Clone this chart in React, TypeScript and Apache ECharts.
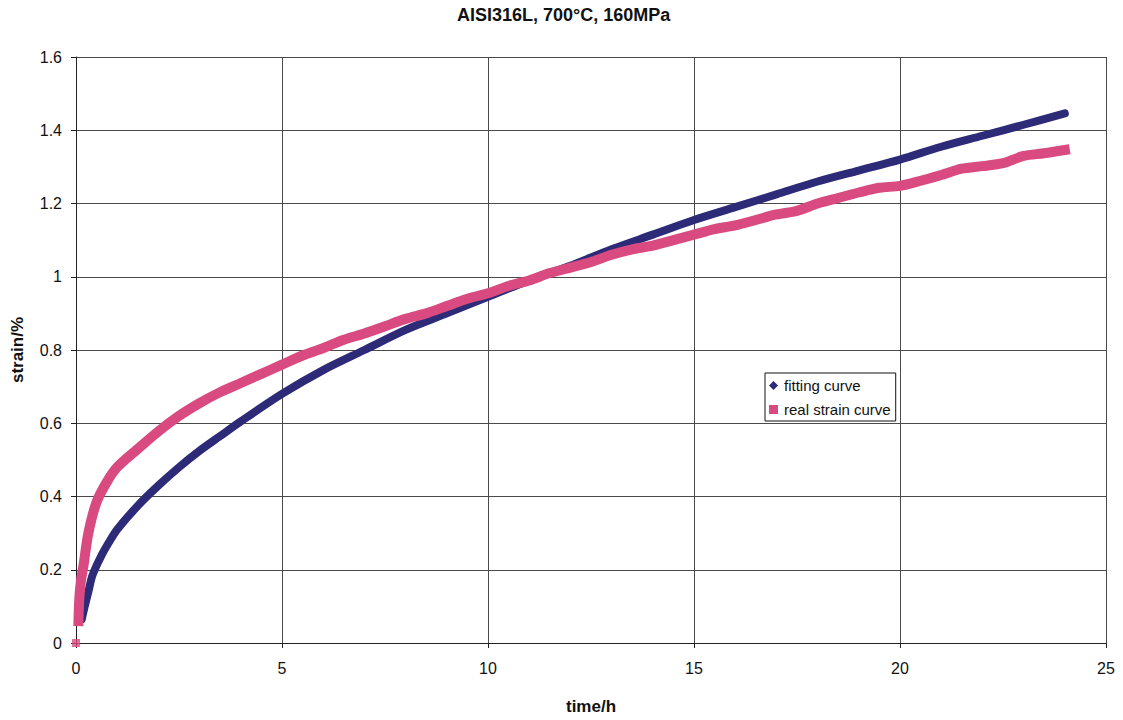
import React, { useEffect, useRef } from "react";
import * as echarts from "echarts";

// Creep test of AISI316L at 700 °C / 160 MPa: fitted model vs. measured strain
const fitTime = [0.14, 0.2, 0.3, 0.4, 0.6, 0.8, 1, 1.5, 2, 2.5, 3, 3.5, 4, 5, 6, 7, 8, 9, 10, 11, 12, 13, 14, 15, 16, 17, 18, 19, 20, 21, 22, 23, 24];
const fitStrain = [0.065, 0.095, 0.14, 0.185, 0.235, 0.275, 0.31, 0.375, 0.43, 0.48, 0.525, 0.565, 0.605, 0.68, 0.745, 0.8, 0.855, 0.9, 0.945, 0.99, 1.03, 1.075, 1.115, 1.155, 1.19, 1.225, 1.26, 1.29, 1.32, 1.355, 1.385, 1.415, 1.446];

const realTime = [0, 0.06, 0.08, 0.12, 0.18, 0.3, 0.5, 0.75, 1, 1.5, 2, 2.5, 3, 3.5, 4, 4.5, 5, 5.5, 6, 6.5, 7, 7.5, 8, 8.5, 9, 9.5, 10, 10.5, 11, 11.5, 12, 12.5, 13, 13.5, 14, 14.5, 15, 15.5, 16, 16.5, 17, 17.5, 18, 18.5, 19, 19.5, 20, 20.5, 21, 21.5, 22, 22.5, 23, 23.5, 24];
const realStrain = [0, 0.06, 0.12, 0.17, 0.21, 0.3, 0.385, 0.44, 0.48, 0.53, 0.578, 0.62, 0.655, 0.685, 0.71, 0.735, 0.76, 0.785, 0.805, 0.828, 0.845, 0.865, 0.885, 0.9, 0.92, 0.94, 0.955, 0.975, 0.99, 1.01, 1.025, 1.04, 1.06, 1.075, 1.085, 1.1, 1.115, 1.13, 1.14, 1.155, 1.17, 1.18, 1.2, 1.215, 1.23, 1.243, 1.248, 1.262, 1.278, 1.295, 1.302, 1.31, 1.33, 1.337, 1.346];

const xTicks = { min: 0, max: 25, interval: 5 };
const yTicks = { min: 0, max: 1.6, interval: 0.2 };

const FIT_COLOR = "#2d2b78";
const REAL_COLOR = "#d84a80";
const FONT = "'Liberation Sans', Arial, sans-serif";

export default function App() {
  const ref = useRef<HTMLDivElement>(null);

  useEffect(() => {
    if (!ref.current) return;
    const chart = echarts.init(ref.current, undefined, { renderer: "svg" });

    const fitData = fitTime.map((t, i) => [t, fitStrain[i]]);
    const realData = realTime.map((t, i) => [t, realStrain[i]]);

    const axisCommon = {
      type: "value" as const,
      axisLine: { show: true, lineStyle: { color: "#222", width: 1 } },
      axisTick: { show: true, inside: false, length: 5, lineStyle: { color: "#222" } },
      splitLine: { show: true, lineStyle: { color: "#4a4a4a", width: 1 } },
      nameTextStyle: { fontFamily: FONT, fontWeight: "bold" as const, fontSize: 17, color: "#111" },
    };

    chart.setOption({
      animation: false,
      backgroundColor: "#ffffff",
      textStyle: { fontFamily: FONT },
      title: {
        text: "AISI316L, 700°C, 160MPa",
        left: 457,
        top: 6,
        padding: 0,
        textStyle: { fontFamily: FONT, fontWeight: "bold", fontSize: 18, color: "#111" },
      },
      grid: { left: 76, right: 17, top: 57, bottom: 77, containLabel: false },
      legend: {
        orient: "vertical",
        left: 765,
        top: 373,
        padding: [5, 5, 4, 4],
        itemWidth: 9,
        itemHeight: 9,
        itemGap: 9,
        borderColor: "#111",
        borderWidth: 1,
        backgroundColor: "#ffffff",
        textStyle: { fontFamily: FONT, fontSize: 15, color: "#111", padding: [0, 0, 0, 1] },
        data: [
          { name: "fitting curve", icon: "diamond" },
          { name: "real strain curve", icon: "rect" },
        ],
      },
      xAxis: {
        ...axisCommon,
        ...xTicks,
        name: "time/h",
        nameLocation: "middle",
        nameGap: 55,
        axisLabel: { fontFamily: FONT, fontSize: 16, color: "#111", margin: 17 },
      },
      yAxis: {
        ...axisCommon,
        ...yTicks,
        name: "strain/%",
        nameLocation: "middle",
        nameGap: 50,
        axisLabel: { fontFamily: FONT, fontSize: 16, color: "#111", margin: 14 },
      },
      series: [
        {
          name: "fitting curve",
          type: "line",
          data: fitData,
          color: FIT_COLOR,
          showSymbol: false,
          symbol: "diamond",
          smooth: 0.3,
          lineStyle: { color: FIT_COLOR, width: 8, cap: "round", join: "round" },
          z: 2,
        },
        {
          name: "real strain curve",
          type: "line",
          data: realData.slice(1),
          color: REAL_COLOR,
          showSymbol: false,
          symbol: "rect",
          smooth: 0.3,
          lineStyle: { color: REAL_COLOR, width: 10, cap: "square", join: "round" },
          z: 3,
        },
        {
          name: "real strain curve",
          type: "scatter",
          data: realData.slice(0, 1),
          color: REAL_COLOR,
          symbol: "rect",
          symbolSize: 8,
          z: 3,
        },
      ],
    });

    return () => chart.dispose();
  }, []);

  return (
    <div
      ref={ref}
      style={{ position: "fixed", left: 0, top: 0, width: 1123, height: 720, background: "#fff" }}
    />
  );
}
